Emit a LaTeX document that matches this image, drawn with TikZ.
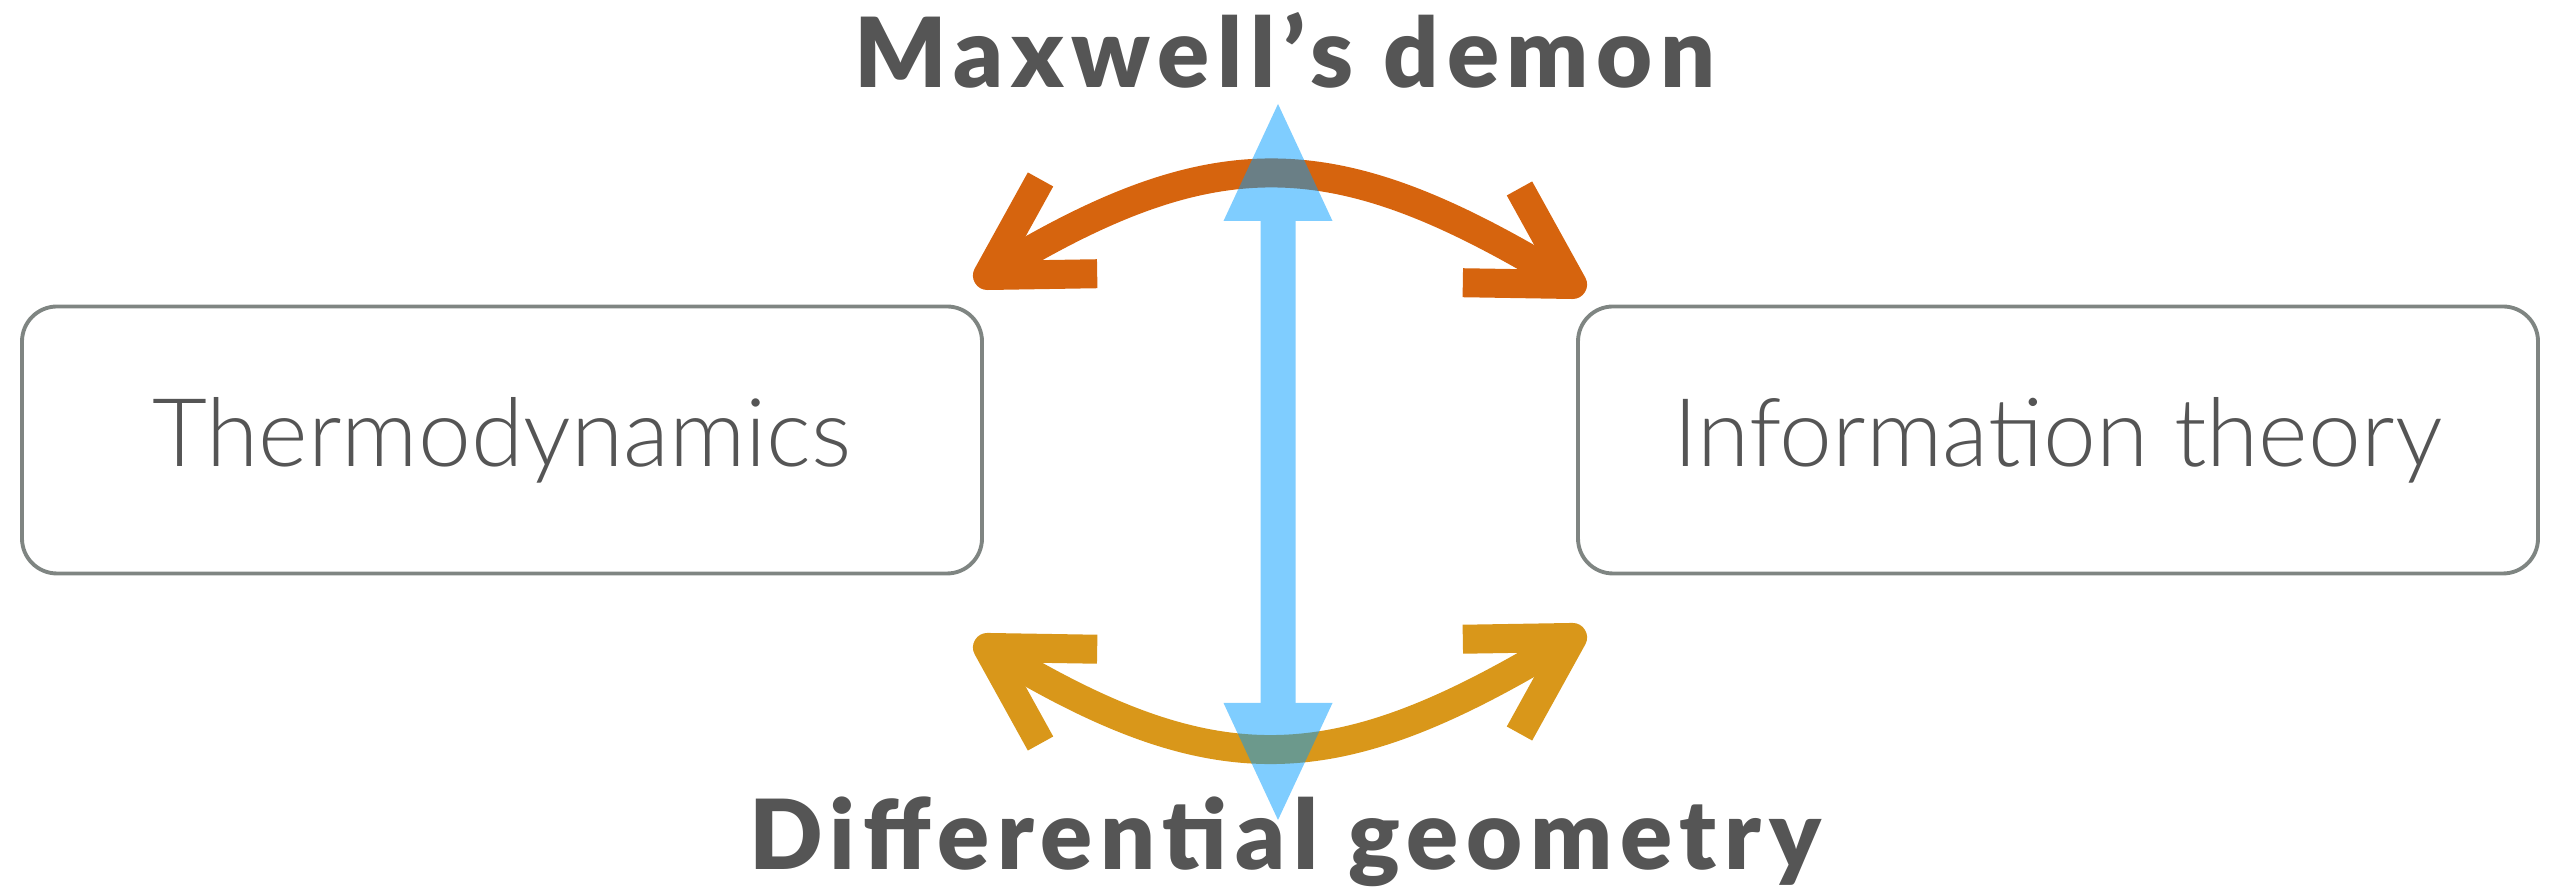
\documentclass[tikz,border=0pt]{standalone}
\usepackage{fontspec}
\setmainfont{Lato}
\newfontfamily\lightfont{Lato Light}
\newfontfamily\heavyfont{Lato Black}[LetterSpace=8]
\usetikzlibrary{arrows.meta, positioning}
\definecolor{cgrey}{HTML}{555555}
\definecolor{cframe}{HTML}{7F8582}
\definecolor{corange}{HTML}{D6640E}
\definecolor{cyellow}{HTML}{D9971A}
\definecolor{cblue}{HTML}{009BFF}
\tikzset{
  every picture/.style={line width=1.1pt},
  field/.style={draw=cframe, rounded corners=0.35cm, minimum width=9.6cm, minimum height=2.67cm,
    font=\lightfont\fontsize{27}{32}\selectfont, text=cgrey},
  title/.style={font=\heavyfont\fontsize{27.5}{32}\selectfont, text=cgrey, anchor=base},
}
\begin{document}
\begin{tikzpicture}[
  swing/.style={line width=0.29cm,
    {Straight Barb[length=0.95cm, width=1.1cm, line join=round]}-{Straight Barb[length=0.95cm, width=1.1cm, line join=round]}},
  link/.style={draw=cblue, line width=0.35cm,
    {Triangle[length=1.17cm, width=1.09cm, line width=0pt]}-{Triangle[length=1.17cm, width=1.09cm, line width=0pt]}}]
  \useasboundingbox (0,0) rectangle (25.57,8.90);
  \node[field] (thermo) at (5.02,4.50) {Thermodynamics};
  \node[field] (info) at (20.58,4.50) {Information theory};
  \node[title] (maxwell) at (12.85,8.02) {Maxwell’s demon};
  \node[title] (diffgeo) at (12.85,0.20) {Differential geometry};
  \coordinate (ml) at (9.75,6.07);
  \coordinate (mr) at (15.85,5.98);
  \coordinate (dl) at (9.75,2.50);
  \coordinate (dr) at (15.85,2.60);
  \coordinate (up) at (12.78,7.86);
  \coordinate (down) at (12.78,0.70);
  \draw[swing, corange] (ml) to[out=31, in=149, looseness=1.2] (mr);
  \draw[swing, cyellow] (dl) to[out=-31, in=-149, looseness=1.2] (dr);
  \begin{scope}[transparency group, opacity=0.5]
    \draw[link] (up) -- (down);
  \end{scope}
\end{tikzpicture}
\end{document}
